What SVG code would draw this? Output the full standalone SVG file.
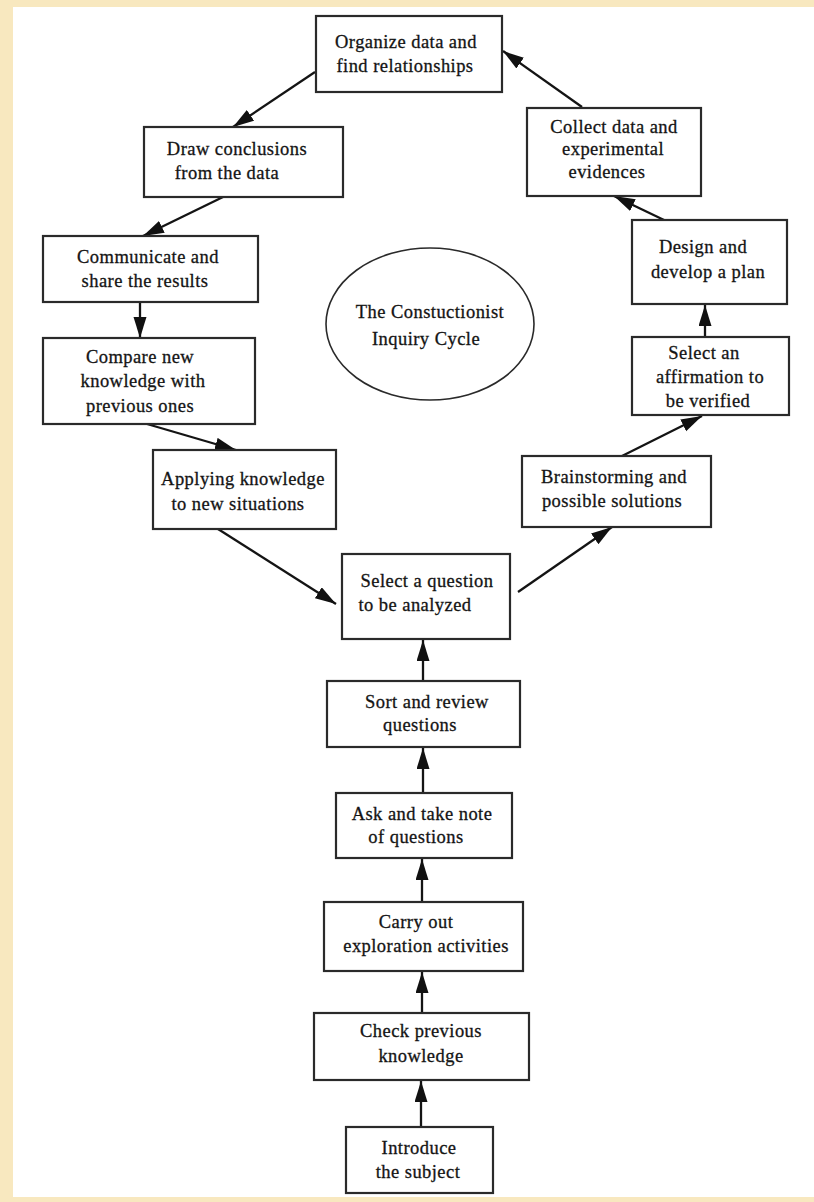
<svg xmlns="http://www.w3.org/2000/svg" width="814" height="1202" viewBox="0 0 814 1202">
<defs>
<marker id="ah" markerUnits="userSpaceOnUse" markerWidth="24" markerHeight="14" refX="21" refY="6.5" orient="auto">
<path d="M0,0 L21,6.5 L0,13 z" fill="#111"/>
</marker>
<style>
.bg{fill:#f8e8bf}
.page{fill:#ffffff}
.box{fill:#ffffff;stroke:#2a2a2a;stroke-width:2.2}
.ell{fill:#ffffff;stroke:#2a2a2a;stroke-width:1.6}
.t{font-family:"Liberation Serif","Times New Roman",serif;font-size:18.5px;letter-spacing:0.45px;fill:#141414;stroke:#141414;stroke-width:0.3;text-anchor:middle}
.c{fill:none;stroke:#141414;stroke-width:2.3;marker-end:url(#ah)}
</style>
</defs>
<rect class="bg" x="0" y="0" width="814" height="1202"/>
<rect class="page" x="13" y="7" width="801" height="1190"/>

<g id="connectors">
<line class="c" x1="421" y1="1127" x2="421" y2="1081"/>
<line class="c" x1="422" y1="1013" x2="422" y2="972"/>
<line class="c" x1="422" y1="902" x2="422" y2="859"/>
<line class="c" x1="423" y1="793" x2="423" y2="748"/>
<line class="c" x1="423" y1="681" x2="423" y2="640"/>
<line class="c" x1="518" y1="592" x2="612" y2="527"/>
<line class="c" x1="622" y1="456" x2="702" y2="416"/>
<line class="c" x1="705" y1="337" x2="705" y2="305"/>
<line class="c" x1="664" y1="220" x2="614" y2="196"/>
<line class="c" x1="582" y1="107" x2="503" y2="51"/>
<line class="c" x1="315" y1="72" x2="233" y2="127"/>
<line class="c" x1="223" y1="197" x2="143" y2="236"/>
<line class="c" x1="140" y1="302" x2="140" y2="338"/>
<line class="c" x1="147" y1="424" x2="236" y2="450"/>
<line class="c" x1="218" y1="529" x2="336" y2="604"/>
</g>

<g id="organize">
<rect class="box" x="316" y="16" width="186" height="76"/>
<text class="t" x="406" y="48">Organize data and</text>
<text class="t" x="405" y="72">find relationships</text>
</g>

<g id="collect">
<rect class="box" x="527" y="108" width="174" height="88"/>
<text class="t" x="614" y="133">Collect data and</text>
<text class="t" x="613" y="155">experimental</text>
<text class="t" x="607" y="178">evidences</text>
</g>

<g id="draw">
<rect class="box" x="144" y="127" width="199" height="70"/>
<text class="t" x="237" y="155">Draw conclusions</text>
<text class="t" x="227" y="179">from the data</text>
</g>

<g id="design">
<rect class="box" x="632" y="220" width="155" height="84"/>
<text class="t" x="703" y="253">Design and</text>
<text class="t" x="708" y="278">develop a plan</text>
</g>

<g id="communicate">
<rect class="box" x="43" y="236" width="215" height="66"/>
<text class="t" x="148" y="263">Communicate and</text>
<text class="t" x="145" y="287">share the results</text>
</g>

<g id="cycle">
<ellipse class="ell" cx="430" cy="324" rx="104" ry="76"/>
<text class="t" x="430" y="318">The Constuctionist</text>
<text class="t" x="426" y="345">Inquiry Cycle</text>
</g>

<g id="compare">
<rect class="box" x="43" y="338" width="212" height="86"/>
<text class="t" x="140" y="363">Compare new</text>
<text class="t" x="143" y="387">knowledge with</text>
<text class="t" x="140" y="412">previous ones</text>
</g>

<g id="affirmation">
<rect class="box" x="632" y="337" width="157" height="78"/>
<text class="t" x="704" y="359">Select an</text>
<text class="t" x="710" y="383">affirmation to</text>
<text class="t" x="708" y="407">be verified</text>
</g>

<g id="applying">
<rect class="box" x="153" y="450" width="183" height="79"/>
<text class="t" x="243" y="485">Applying knowledge</text>
<text class="t" x="238" y="510">to new situations</text>
</g>

<g id="brainstorming">
<rect class="box" x="522" y="456" width="189" height="71"/>
<text class="t" x="614" y="483">Brainstorming and</text>
<text class="t" x="612" y="507">possible solutions</text>
</g>

<g id="select-question">
<rect class="box" x="342" y="554" width="168" height="85"/>
<text class="t" x="427" y="587">Select a question</text>
<text class="t" x="415" y="611">to be analyzed</text>
</g>

<g id="sort">
<rect class="box" x="327" y="681" width="193" height="66"/>
<text class="t" x="427" y="708">Sort and review</text>
<text class="t" x="420" y="731">questions</text>
</g>

<g id="ask">
<rect class="box" x="336" y="793" width="176" height="65"/>
<text class="t" x="422" y="820">Ask and take note</text>
<text class="t" x="416" y="843">of questions</text>
</g>

<g id="carry">
<rect class="box" x="324" y="902" width="199" height="69"/>
<text class="t" x="416" y="928">Carry out</text>
<text class="t" x="426" y="952">exploration activities</text>
</g>

<g id="check">
<rect class="box" x="314" y="1013" width="215" height="67"/>
<text class="t" x="421" y="1037">Check previous</text>
<text class="t" x="421" y="1062">knowledge</text>
</g>

<g id="introduce">
<rect class="box" x="346" y="1127" width="147" height="66"/>
<text class="t" x="419" y="1154">Introduce</text>
<text class="t" x="418" y="1178">the subject</text>
</g>
</svg>
